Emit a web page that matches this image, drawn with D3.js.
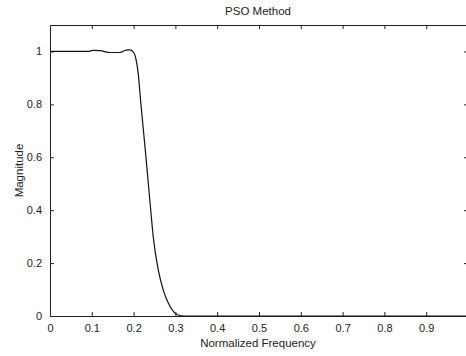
<!DOCTYPE html>
<html>
<head>
<meta charset="utf-8">
<script src="https://cdn.jsdelivr.net/npm/d3@7"></script>
<style>
  body { margin: 0; background: #fff; overflow: hidden; }
  svg { display: block; }
  text { font-family: "Liberation Sans", Arial, sans-serif; fill: #222; }
</style>
</head>
<body>
<div id="chart"></div>
<script>
// magnitude response
const freq = [0, 0.05, 0.091, 0.103, 0.12, 0.144, 0.167, 0.182, 0.191, 0.201, 0.206,
  0.211, 0.217, 0.223, 0.229, 0.235, 0.241, 0.247, 0.259, 0.271, 0.283, 0.299,
  0.311, 0.33, 0.5, 0.7, 1.0];
const magnitude = [1.0, 1.0, 1.0, 1.004, 1.003, 0.996, 0.996, 1.005, 1.006, 0.994, 0.968,
  0.917, 0.81, 0.71, 0.61, 0.505, 0.40, 0.299, 0.174, 0.098, 0.049, 0.011,
  0.002, 0, 0, 0, 0];
const xTicks = [0, 0.1, 0.2, 0.3, 0.4, 0.5, 0.6, 0.7, 0.8, 0.9, 1];
const yTicks = [0, 0.2, 0.4, 0.6, 0.8, 1];

const width = 466, height = 356;
const margin = { top: 25, right: -2, bottom: 40, left: 50 };

const svg = d3.select("#chart").append("svg")
  .attr("width", width).attr("height", height);

const x = d3.scaleLinear().domain([0, 1]).range([margin.left, width - margin.right]);
const y = d3.scaleLinear().domain([0, 1.1]).range([height - margin.bottom, margin.top]);

const tickFmt = d => d === 0 || d === 1 ? d3.format("d")(d) : d3.format(".1f")(d);

function styleAxis(g) {
  g.selectAll(".domain").attr("stroke", "#222");
  g.selectAll(".tick line").attr("stroke", "#222");
  g.selectAll(".tick text").style("font-size", "11px").attr("fill", "#222");
}

// bottom
svg.append("g")
  .attr("transform", `translate(0,${y(0)})`)
  .call(d3.axisBottom(x).tickValues(xTicks.slice(0, 10)).tickFormat(tickFmt)
    .tickSizeInner(-4).tickSizeOuter(0).tickPadding(8))
  .call(styleAxis);
// top
svg.append("g")
  .attr("transform", `translate(0,${y(1.1)})`)
  .call(d3.axisTop(x).tickValues(xTicks).tickFormat("")
    .tickSizeInner(-4).tickSizeOuter(0))
  .call(styleAxis);
// left
svg.append("g")
  .attr("transform", `translate(${x(0)},0)`)
  .call(d3.axisLeft(y).tickValues(yTicks).tickFormat(tickFmt)
    .tickSizeInner(-4).tickSizeOuter(0).tickPadding(8))
  .call(styleAxis)
  .call(g => g.selectAll(".tick text").attr("dy", "0.3em"));
// right
svg.append("g")
  .attr("transform", `translate(${x(1)},0)`)
  .call(d3.axisRight(y).tickValues(yTicks).tickFormat("")
    .tickSizeInner(-4).tickSizeOuter(0))
  .call(styleAxis);

const line = d3.line()
  .x((d, i) => x(freq[i]))
  .y(d => y(d))
  .curve(d3.curveMonotoneX);

svg.append("path")
  .datum(magnitude)
  .attr("fill", "none")
  .attr("stroke", "#111")
  .attr("stroke-width", 1.2)
  .attr("d", line);

svg.append("text")
  .attr("x", 258).attr("y", 15)
  .attr("text-anchor", "middle")
  .style("font-size", "11.5px")
  .text("PSO Method");

svg.append("text")
  .attr("x", 258).attr("y", 347)
  .attr("text-anchor", "middle")
  .style("font-size", "11.5px")
  .text("Normalized Frequency");

svg.append("text")
  .attr("transform", `translate(23,${(y(0) + y(1.1)) / 2}) rotate(-90)`)
  .attr("text-anchor", "middle")
  .style("font-size", "11.5px")
  .text("Magnitude");
</script>
</body>
</html>
